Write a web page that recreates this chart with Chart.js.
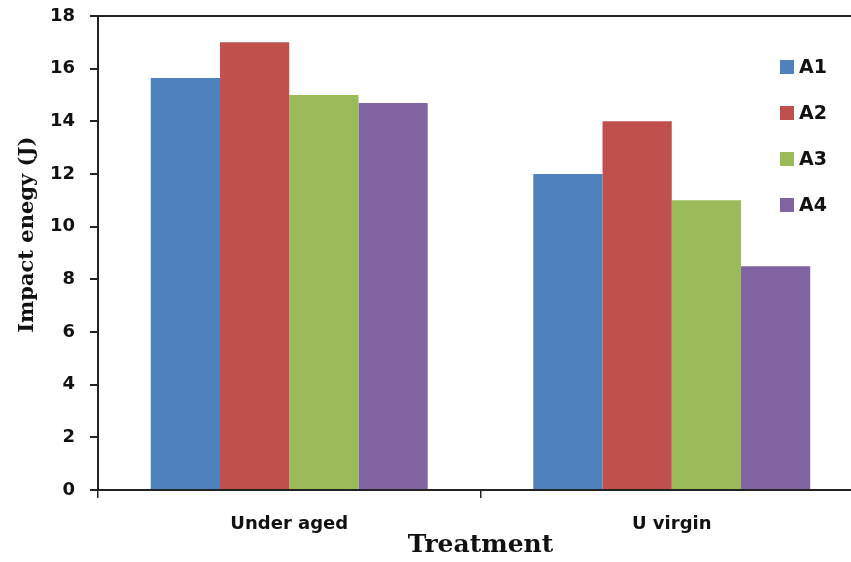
<!DOCTYPE html>
<html>
<head>
<meta charset="utf-8">
<script src="https://cdn.jsdelivr.net/npm/chart.js@4.4.0/dist/chart.umd.min.js"></script>
<style>
html, body { margin: 0; padding: 0; background: #fff; overflow: hidden; }
#wrap { width: 863px; height: 562px; }
</style>
</head>
<body>
<div id="wrap"><canvas id="chart"></canvas></div>
<script>
// data
const categories = ["Under aged", "U virgin"];
const seriesNames = ["A1", "A2", "A3", "A4"];
const a1 = [15.65, 12];
const a2 = [17, 14];
const a3 = [15, 11];
const a4 = [14.7, 8.5];
const colors = ["#4F81BD", "#C0504D", "#9BBB59", "#8064A2"];
const yMin = 0;
const yMax = 18;
const yStep = 2;

const axisColor = "#222";

// legend drawn inside the plot, on the right
const sideLegend = {
    id: "sideLegend",
    afterDraw(chart) {
        const ctx = chart.ctx;
        const area = chart.chartArea;
        ctx.save();
        ctx.font = "bold 19px 'DejaVu Sans'";
        ctx.textBaseline = "middle";
        chart.data.datasets.forEach(function (ds, i) {
            let y = area.top + 51 + i * 46;
            ctx.fillStyle = ds.backgroundColor;
            ctx.fillRect(780, y - 7, 14, 14);
            ctx.fillStyle = "#111";
            ctx.fillText(ds.label, 799, y + 1);
        });
        ctx.restore();
    }
};

let ctx = document.getElementById("chart").getContext("2d");
let chart = new Chart(ctx, {
    type: "bar",
    data: {
        labels: categories,
        datasets: [
            { label: seriesNames[0], data: a1, backgroundColor: colors[0] },
            { label: seriesNames[1], data: a2, backgroundColor: colors[1] },
            { label: seriesNames[2], data: a3, backgroundColor: colors[2] },
            { label: seriesNames[3], data: a4, backgroundColor: colors[3] }
        ]
    },
    options: {
        responsive: true,
        maintainAspectRatio: false,
        animation: false,
        layout: { padding: { top: 16, left: 0, right: 0, bottom: 0 } },
        categoryPercentage: 0.724,
        barPercentage: 1.0,
        plugins: {
            legend: { display: false },
            tooltip: { enabled: false }
        },
        scales: {
            x: {
                offset: true,
                grid: {
                    drawOnChartArea: false,
                    color: axisColor,
                    tickLength: 8,
                    lineWidth: 1.5
                },
                border: { color: axisColor, width: 2 },
                ticks: {
                    color: "#111",
                    padding: 16,
                    font: { family: "'DejaVu Sans'", size: 18, weight: "bold" }
                },
                title: {
                    display: true,
                    text: "Treatment",
                    color: "#111",
                    padding: { top: 0, bottom: 2 },
                    font: { family: "'DejaVu Serif'", size: 25, weight: "bold" }
                },
                afterFit(scale) { scale.height = 72; }
            },
            y: {
                min: yMin,
                max: yMax,
                ticks: {
                    stepSize: yStep,
                    color: "#111",
                    padding: 15,
                    font: { family: "'DejaVu Sans'", size: 18, weight: "bold" }
                },
                grid: {
                    drawOnChartArea: true,
                    color: function (c) { return c.tick && c.tick.value === yMax ? axisColor : "transparent"; },
                    tickColor: axisColor,
                    tickLength: 8,
                    lineWidth: 2
                },
                border: { color: axisColor, width: 2 },
                title: {
                    display: true,
                    text: "     Impact enegy (J)",
                    color: "#111",
                    padding: { top: 15, bottom: 0 },
                    font: { family: "'DejaVu Serif'", size: 21, weight: "bold" }
                },
                afterFit(scale) {
                    scale.width = 98;
                    // tick padding would otherwise push the plot down
                    scale.paddingTop = 10;
                    scale.paddingBottom = 10;
                }
            }
        }
    },
    plugins: [sideLegend]
});
</script>
</body>
</html>
